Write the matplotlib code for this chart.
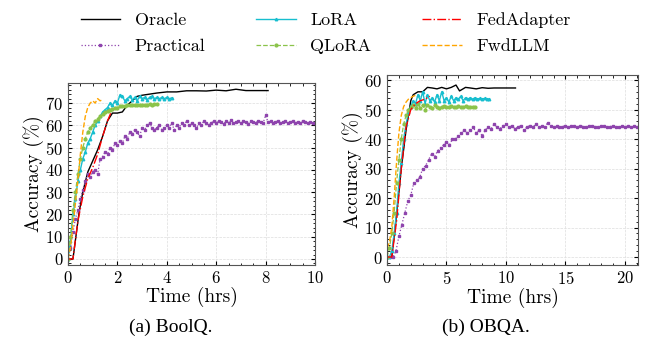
import matplotlib
matplotlib.use("Agg")
import matplotlib.pyplot as plt
import numpy as np
from matplotlib.ticker import MultipleLocator, AutoMinorLocator

plt.rcParams['font.family'] = ['cmr10', 'DejaVu Serif']
plt.rcParams['axes.formatter.use_mathtext'] = True
plt.rcParams['mathtext.fontset'] = 'cm'

# ---- BoolQ ----
bq_oracle_t = [0, 0.2, 0.45, 0.6, 0.8, 1.0, 1.2, 1.4, 1.6, 1.8, 2.0, 2.2, 2.4, 2.6, 2.8, 3.0, 3.3,
               3.6, 4.0, 4.4, 4.8, 5.2, 5.6, 6.0, 6.4, 6.8, 7.2, 7.6, 8.1]
bq_oracle = [0, 0, 21, 30, 39, 44, 49, 55, 62, 65.5, 65.5, 66, 69, 71, 73, 73.5, 74, 74.5, 75,
             75, 75.5, 75.5, 75.4, 75.8, 75.5, 76.2, 75.6, 75.6, 75.6]

bq_practical_t = np.arange(0, 10.01, 0.1)
bq_practical = [0, 5, 12, 18, 22, 27, 31, 35, 38, 37,
                39, 40, 38, 45, 46, 48, 47, 50, 49, 52,
                51, 53, 52, 55, 54, 57, 56, 58, 57, 55,
                59, 58, 60, 61, 59, 58, 59, 60, 58, 59,
                60, 59, 61, 58, 60, 59, 61, 60, 62, 60,
                61, 60, 58.6, 61, 60, 62, 61, 60, 61, 62,
                61, 62, 61.5, 60.5, 62, 61, 62.5, 61, 61.5, 62,
                61, 62, 61.5, 60.5, 62, 61.5, 61, 62, 61.5, 61,
                64.5, 61.5, 62, 61, 61.5, 62, 61, 61.5, 62, 61,
                61.5, 62, 61, 61.5, 61, 62, 61.5, 61, 61.5, 61, 61]

bq_lora_t = np.arange(0, 4.21, 0.1)
bq_lora = [0, 8, 20, 27, 35, 40, 45, 48, 52, 54,
           57, 60, 62, 64, 66, 67, 68, 70, 69, 71,
           70, 73.6, 73, 71, 72, 73, 71.5, 72.5, 71, 73,
           72, 72.5, 71.5, 72.5, 73, 72, 72.5, 72, 72.5, 72,
           72.5, 72, 72.3]

bq_qlora_t = np.arange(0, 3.61, 0.1)
bq_qlora = [0, 10, 22, 30, 38, 45, 50, 54, 57, 59,
            60, 62, 63, 64, 65, 66, 66.5, 67, 67.5, 68,
            68, 68.5, 68.5, 68.8, 69, 69, 69, 69.2, 69, 69.2,
            69.3, 69.2, 69.3, 69.4, 69.3, 69.4, 69.4]

bq_fed_t = [0, 0.2, 0.4, 0.6, 0.8, 1.0, 1.2, 1.4, 1.6, 1.75]
bq_fed = [0, 0, 17, 28, 36, 41, 47, 55, 62, 66]

bq_fwd_t = [0, 0.1, 0.2, 0.3, 0.4, 0.5, 0.6, 0.7, 0.8, 0.9, 1.0, 1.1, 1.2, 1.3, 1.4]
bq_fwd = [0, 5, 15, 25, 35, 47, 57, 64, 68, 70, 71, 70, 72, 71, 71.5]

# ---- OBQA ----
ob_oracle_t = [0, 0.4, 0.8, 1.2, 1.6, 2.0, 2.2, 2.6, 3.0, 3.4, 3.8, 4.2, 4.6, 5.0, 5.4, 5.8,
               6.1, 6.6, 7.0, 7.5, 8.0, 8.5, 9.0, 9.5, 10.0, 10.8]
ob_oracle = [0, 0, 14, 30, 43, 53, 55, 56, 56, 57.5, 57.3, 57, 57.5, 57, 57.5, 58.3,
             56.3, 57.5, 57.3, 57, 57.4, 57.2, 57.3, 57.3, 57.3, 57.3]

ob_practical_t = np.arange(0, 21.01, 0.25)
ob_practical = [0, 0, 0, 2, 7, 11, 15, 19, 21, 25,
                26, 27, 30, 31, 33, 35, 34, 36, 37, 38,
                39, 38, 40, 40, 41, 42, 43, 42, 43, 44,
                42, 43, 41, 43, 44, 43.5, 45, 44, 43.5, 44.5,
                45, 44, 44.5, 43.5, 44, 44.5, 43, 44, 44.5, 44,
                45, 44, 44.5, 44, 45.5, 44.5, 44, 44.5, 44, 44.2,
                44.5, 44, 44.3, 44.5, 44, 44.5, 44.2, 44, 44.3, 44.5,
                44.2, 44, 44.3, 44.5, 44, 44.2, 44.5, 44.2, 44, 44.3,
                44.2, 44.3, 44.2, 44.3, 44.2]

ob_lora_t = np.arange(0, 8.61, 0.2)
ob_lora = [0, 0, 2, 8, 15, 25, 32, 40, 45, 49,
           51, 53, 52, 55, 53, 56, 52, 55, 53, 54,
           52.5, 55, 53, 56, 53, 54, 52.5, 54.5, 53, 54,
           53.5, 54.5, 53, 54, 53.5, 54, 53.5, 54, 53.5, 53.8,
           53.5, 53.8, 53.5, 53.6]

ob_qlora_t = np.arange(0, 7.41, 0.2)
ob_qlora = [0, 3, 8, 15, 25, 33, 40, 45, 48, 50,
            51, 51.5, 50.5, 52, 50.5, 51.5, 50, 51.5, 51, 50.5,
            51.5, 51, 50.5, 51, 51.2, 50.8, 51, 51.2, 50.8, 51,
            51.1, 50.9, 51, 51.1, 50.9, 51, 51, 51]

ob_fed_t = [0, 0.4, 0.8, 1.2, 1.6, 2.0, 2.4, 2.8, 3.2, 3.6]
ob_fed = [0, 0, 12, 30, 44, 50, 52, 53, 53.5, 54.5]

ob_fwd_t = [0, 0.2, 0.4, 0.6, 0.8, 1.0, 1.2, 1.4, 1.6, 1.8, 2.0, 2.2, 2.5]
ob_fwd = [3, 5, 10, 20, 32, 42, 48, 51, 52.5, 53.5, 54, 54.5, 55]

labels = ['Oracle', 'Practical', 'LoRA', 'QLoRA', 'FedAdapter', 'FwdLLM']

fig = plt.figure(figsize=(6.51, 3.58), dpi=100)
ax1 = fig.add_axes([68 / 651, 1 - 265 / 358, 247 / 651, 182 / 358])
ax2 = fig.add_axes([387 / 651, 1 - 265 / 358, 251 / 651, 190 / 358])


def draw(ax, d):
    h = []
    h += ax.plot(d[0][0], d[0][1], color='black', lw=1.0, ls='-')
    h += ax.plot(d[1][0], d[1][1], color='#8e44ad', lw=0.9, ls=':', marker='s', ms=1.8)
    h += ax.plot(d[2][0], d[2][1], color='#17becf', lw=1.0, ls='-', marker='^', ms=1.8)
    h += ax.plot(d[3][0], d[3][1], color='#8bc34a', lw=0.9, ls='--', marker='o', ms=2.0)
    h += ax.plot(d[4][0], d[4][1], color='red', lw=1.0, ls='-.')
    h += ax.plot(d[5][0], d[5][1], color='orange', lw=1.0, ls='--')
    ax.grid(True, ls='--', lw=0.5, color='#dddddd')
    ax.tick_params(which='both', direction='in', top=True, right=True, labelsize=12)
    ax.tick_params(which='major', length=3)
    ax.tick_params(which='minor', length=1.8)
    ax.yaxis.set_major_locator(MultipleLocator(10))
    ax.yaxis.set_minor_locator(AutoMinorLocator(5))
    ax.set_xlabel('Time (hrs)', fontsize=14, labelpad=1)
    ax.set_ylabel('Accuracy (%)', fontsize=14, labelpad=1)
    for s in ax.spines.values():
        s.set_color('#555555')
    return h


h = draw(ax1, [(bq_oracle_t, bq_oracle), (bq_practical_t, bq_practical), (bq_lora_t, bq_lora),
               (bq_qlora_t, bq_qlora), (bq_fed_t, bq_fed), (bq_fwd_t, bq_fwd)])
ax1.set_xlim(0, 10)
ax1.set_ylim(-2.7, 79)
ax1.xaxis.set_major_locator(MultipleLocator(2))
ax1.xaxis.set_minor_locator(MultipleLocator(0.5))

draw(ax2, [(ob_oracle_t, ob_oracle), (ob_practical_t, ob_practical), (ob_lora_t, ob_lora),
           (ob_qlora_t, ob_qlora), (ob_fed_t, ob_fed), (ob_fwd_t, ob_fwd)])
ax2.set_xlim(0, 21.1)
ax2.set_ylim(-2.7, 61.7)
ax2.xaxis.set_major_locator(MultipleLocator(5))
ax2.xaxis.set_minor_locator(MultipleLocator(1))

fig.legend(h, labels, loc='upper center', bbox_to_anchor=(0.5, 1.01), ncol=3, frameon=False,
           fontsize=13, handlelength=2.2, columnspacing=2.8, labelspacing=0.55)

fig.text(171 / 651, 1 - 327 / 358, '(a) BoolQ.', ha='center', va='center', fontsize=14,
         family='Liberation Serif')
fig.text(486 / 651, 1 - 327 / 358, '(b) OBQA.', ha='center', va='center', fontsize=14,
         family='Liberation Serif')

fig.savefig('out.png', dpi=100)
